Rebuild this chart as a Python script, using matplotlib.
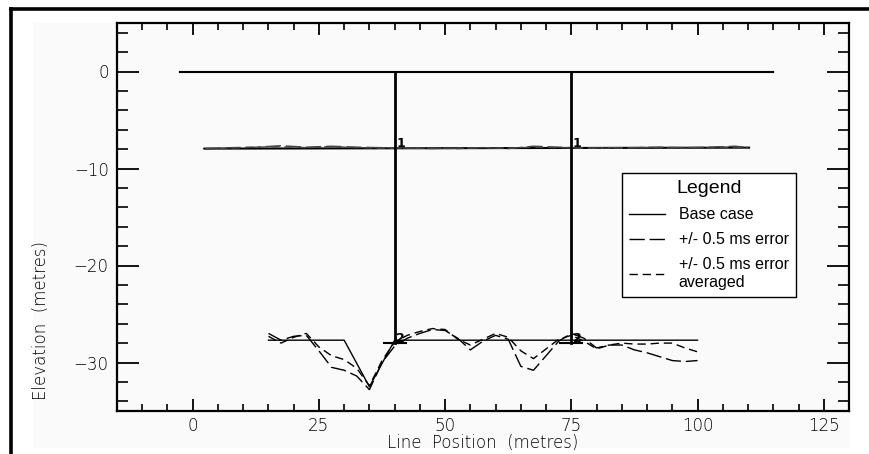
import matplotlib
matplotlib.use("Agg")
import matplotlib.pyplot as plt
from matplotlib.lines import Line2D
from matplotlib.patches import Rectangle
from matplotlib.ticker import MultipleLocator

# ---------------- data ----------------
# Layer 0 (surface)
base0_x = [-2.5, 115.0]
base0_y = [0.0, 0.0]

# Layer 1
base1_x = [2.3, 110.2]
base1_y = [-7.95, -7.85]
err1_x = [2.5, 7.5, 12.5, 17.5, 22.5, 27.5, 32.5, 37.5, 42.5, 47.5, 52.5, 57.5,
          62.5, 67.5, 72.5, 77.5, 82.5, 87.5, 92.5, 97.5, 102.5, 107.5, 110.0]
err1_y = [-7.95, -7.85, -7.8, -7.65, -7.8, -7.7, -7.8, -7.85, -7.9, -7.95, -7.9,
          -7.85, -7.95, -7.7, -7.8, -7.9, -7.85, -7.85, -7.8, -7.85, -7.8, -7.7, -7.85]
avg1_y = [-7.95, -7.9, -7.8, -7.75, -7.85, -7.75, -7.85, -7.9, -7.9, -7.9, -7.95,
          -7.85, -7.9, -7.8, -7.85, -7.9, -7.9, -7.85, -7.85, -7.9, -7.85, -7.8, -7.85]

# Layer 2
base2_x = [15.0, 30.0, 35.0, 40.0, 100.0]
base2_y = [-27.7, -27.7, -32.5, -27.7, -27.7]
err2_x = [15, 17.5, 20, 22.5, 25, 27.5, 30, 32.5, 35, 37.5, 40, 42.5, 45, 47.5,
          50, 52.5, 55, 57.5, 60, 62.5, 65, 67.5, 70, 72.5, 75, 77.5, 80, 82.5,
          85, 87.5, 90, 92.5, 95, 97.5, 100]
err2_y = [-27.0, -27.7, -27.3, -27.2, -28.8, -30.5, -30.8, -31.4, -32.8, -30.0,
          -28.3, -27.5, -27.0, -26.6, -26.7, -27.5, -28.7, -27.8, -27.2, -27.6,
          -30.4, -30.8, -29.3, -27.8, -27.0, -27.5, -28.5, -28.2, -28.2, -28.7,
          -29.0, -29.4, -29.8, -29.9, -29.8]
avg2_y = [-27.3, -28.0, -27.4, -27.0, -28.4, -29.3, -29.7, -30.6, -32.4, -29.8,
          -27.9, -27.2, -26.8, -26.5, -26.6, -27.6, -28.2, -27.6, -27.0, -27.4,
          -28.8, -29.6, -28.6, -27.6, -27.2, -27.8, -28.6, -28.2, -28.0, -28.1,
          -28.1, -28.0, -28.0, -28.5, -28.9]

# Wells (vertical lines) and their layer labels
well_x = [40.0, 75.0]
well_top = 0.0
well_bottom = -28.0
well_mark_half = 2.2
layer_label_y = [-7.4, -27.5]
layer_labels = ["1", "2"]

legend_labels = ["Base case", "+/- 0.5 ms error", "+/- 0.5 ms error\naveraged"]

# ---------------- figure ----------------
W, H = 870, 454
fig = plt.figure(figsize=(W / 100, H / 100), dpi=100)
fig.patch.set_facecolor("white")

# light panel behind plot
fig.add_artist(Rectangle((33 / W, 1 - 448 / H), (850 - 33) / W, (448 - 23) / H,
                         transform=fig.transFigure, facecolor="#fafafa",
                         edgecolor="none", zorder=0))
# outer black frame (top and left)
fig.add_artist(Line2D([11 / W, 1.0], [1 - 9 / H, 1 - 9 / H], transform=fig.transFigure,
                      color="black", lw=2.6))
fig.add_artist(Line2D([11 / W, 11 / W], [0, 1 - 9 / H], transform=fig.transFigure,
                      color="black", lw=2.6))

ax = fig.add_axes([117 / W, 1 - 411 / H, (849 - 117) / W, (411 - 23) / H])
ax.set_facecolor("#fafafa")

long_dash = (0, (11, 3.5))
short_dash = (0, (6, 3.5))

# base case
ax.plot(base0_x, base0_y, color="black", lw=1.5)
ax.plot(base1_x, base1_y, color="black", lw=1.5)
ax.plot(base2_x, base2_y, color="black", lw=1.0)
# errors
ax.plot(err1_x, err1_y, color="#444444", lw=1.0, linestyle=long_dash)
ax.plot(err1_x, avg1_y, color="#444444", lw=1.0, linestyle=short_dash)
ax.plot(err2_x, err2_y, color="black", lw=1.0, linestyle=long_dash)
ax.plot(err2_x, avg2_y, color="black", lw=1.0, linestyle=short_dash)

# wells
for wx in well_x:
    ax.plot([wx, wx], [well_top, well_bottom], color="black", lw=2.0)
    ax.plot([wx - well_mark_half, wx + well_mark_half], [well_bottom, well_bottom],
            color="black", lw=1.5)
    for ly, lab in zip(layer_label_y, layer_labels):
        ax.text(wx + 0.3, ly, lab, fontsize=9, fontweight="bold",
                ha="left", va="center", family="DejaVu Sans")

ax.set_xlim(-15, 130)
ax.set_ylim(-35, 5)
ax.xaxis.set_major_locator(MultipleLocator(25))
ax.xaxis.set_minor_locator(MultipleLocator(5))
ax.yaxis.set_major_locator(MultipleLocator(10))
ax.yaxis.set_minor_locator(MultipleLocator(2))

for s in ax.spines.values():
    s.set_linewidth(1.6)

ax.tick_params(axis="x", which="major", direction="in", length=8.5, width=1.3,
               top=True, bottom=True, pad=4.5, labelsize=12)
ax.tick_params(axis="x", which="minor", direction="in", length=5, width=1.2,
               top=True, bottom=True)
ax.tick_params(axis="y", which="major", direction="in", length=16, width=1.3,
               left=True, right=True, pad=6, labelsize=12)
ax.tick_params(axis="y", which="minor", direction="in", length=8, width=1.2,
               left=True, right=True)
for lab in ax.get_xticklabels() + ax.get_yticklabels():
    lab.set_fontweight("light")

ax.set_xlabel("Line  Position  (metres)", fontsize=12, fontweight="light", labelpad=-1)
ax.set_ylabel("Elevation  (metres)", fontsize=12, fontweight="light")
ax.yaxis.set_label_coords(-0.0915, 0.2345)

handles = [Line2D([], [], color="black", lw=1.0),
           Line2D([], [], color="black", lw=1.0, linestyle=long_dash),
           Line2D([], [], color="black", lw=1.0, linestyle=short_dash)]
leg = ax.legend(handles, legend_labels, title="Legend", loc="upper left",
                bbox_to_anchor=(0.690, 0.6126), borderaxespad=0, frameon=True,
                fancybox=False, edgecolor="black", facecolor="white", framealpha=1,
                prop={"family": "Liberation Sans", "size": 11.5},
                handlelength=2.25, handletextpad=0.85, labelspacing=0.62,
                borderpad=0.45)
leg.get_title().set_fontsize(14)
leg.get_title().set_family("Liberation Sans")
leg.get_frame().set_linewidth(1.0)

fig.savefig("out.png", dpi=100, facecolor="white")
